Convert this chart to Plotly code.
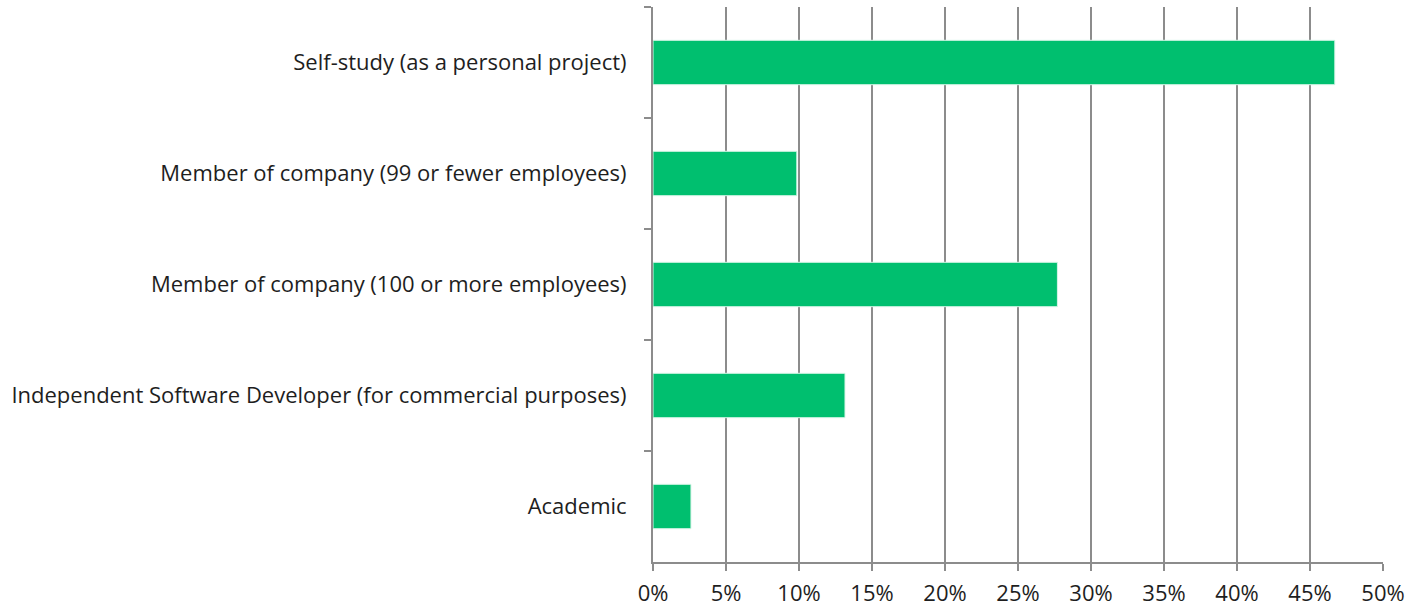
import plotly.graph_objects as go

# Survey: development context of respondents (share of responses)
categories = [
    "Self-study (as a personal project)",
    "Member of company (99 or fewer employees)",
    "Member of company (100 or more employees)",
    "Independent Software Developer (for commercial purposes)",
    "Academic",
]
shares = [46.7, 9.85, 27.7, 13.15, 2.6]

x_ticks = list(range(0, 51, 5))
x_tick_text = [f"{v}%" for v in x_ticks]

axis_grey = "#8c8c8c"
bar_green = "#00bf6f"
text_color = "#1e1e1e"
font_family = "Open Sans, Calibri, sans-serif"
font_size = 22

fig = go.Figure(
    go.Bar(
        x=shares,
        y=categories,
        orientation="h",
        width=0.4,
        marker=dict(color=bar_green, line=dict(color="#d8f5e8", width=1)),
        hoverinfo="x+y",
    )
)

fig.update_layout(
    width=1421,
    height=609,
    margin=dict(l=653, r=38, t=7, b=47, autoexpand=False),
    paper_bgcolor="white",
    plot_bgcolor="white",
    showlegend=False,
    font=dict(family=font_family, size=font_size, color=text_color),
)

fig.update_xaxes(
    range=[0, 50],
    tickvals=x_ticks,
    ticktext=x_tick_text,
    showgrid=True,
    gridcolor=axis_grey,
    gridwidth=2,
    showline=True,
    linecolor=axis_grey,
    linewidth=2,
    ticks="outside",
    ticklen=7,
    tickwidth=2,
    tickcolor=axis_grey,
    ticklabelstandoff=4,
    zeroline=False,
    automargin=False,
    tickfont=dict(size=font_size, color=text_color),
)

fig.update_yaxes(
    type="category",
    categoryorder="array",
    categoryarray=categories,
    autorange="reversed",
    showgrid=False,
    showline=True,
    linecolor=axis_grey,
    linewidth=2,
    ticks="outside",
    tickson="boundaries",
    ticklen=7,
    tickwidth=2,
    tickcolor=axis_grey,
    ticklabelstandoff=20,
    zeroline=False,
    automargin=False,
    tickfont=dict(size=font_size, color=text_color),
)

fig.write_html("out.html")
